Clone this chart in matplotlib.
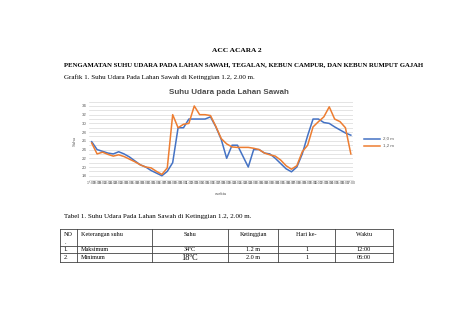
import numpy as np
import matplotlib.pyplot as plt

W, H = 474, 334

# --- data ---
waktu = ['%02d:00' % ((17 + i) % 24) for i in range(49)]
suhu_20 = [25.8, 24.0, 23.6, 23.2, 23.0, 23.5, 23.0, 22.3, 21.4, 20.5, 20.0, 19.2, 18.6,
           18.0, 19.0, 21.0, 29.0, 29.0, 31.0, 31.0, 31.0, 31.0, 31.5, 29.2, 26.3, 22.0,
           25.0, 25.0, 22.5, 20.0, 24.0, 24.0, 23.2, 23.0, 22.0, 20.8, 19.6, 18.9, 20.0,
           23.0, 27.2, 31.0, 31.0, 30.2, 30.0, 29.2, 28.5, 27.8, 27.3]
suhu_12 = [25.5, 23.0, 23.4, 22.9, 22.5, 22.8, 22.4, 21.8, 21.2, 20.5, 20.0, 19.8, 19.0,
           18.3, 19.8, 32.0, 29.0, 29.8, 30.0, 34.0, 32.0, 32.0, 31.8, 29.3, 26.5, 25.3,
           24.6, 24.5, 24.5, 24.5, 24.3, 24.0, 23.2, 22.8, 22.5, 21.6, 20.3, 19.5, 20.3,
           23.5, 25.0, 29.2, 30.4, 31.5, 33.8, 31.0, 30.4, 29.0, 23.0]
seri_label = ['2,0 m', '1,2 m']
y_ticks = [18, 20, 22, 24, 26, 28, 30, 32, 34]

tabel_header = ['NO', 'Keterangan suhu', 'Suhu', 'Ketinggian', 'Hari ke-', 'Waktu']
tabel_rows = [['1.', 'Maksimum', '34ºC', '1.2 m', '1', '12:00'],
              ['2.', 'Minimum', '18ºC', '2.0 m', '1', '06:00']]

judul1 = 'ACC ACARA 2'
judul2 = 'PENGAMATAN SUHU UDARA PADA LAHAN SAWAH, TEGALAN, KEBUN CAMPUR, DAN KEBUN RUMPUT GAJAH'
grafik_cap = 'Grafik 1. Suhu Udara Pada Lahan Sawah di Ketinggian 1.2, 2.00 m.'
tabel_cap = 'Tabel 1. Suhu Udara Pada Lahan Sawah di Ketinggian 1.2, 2.00 m.'

SERIF = 'Liberation Serif'
SANS = 'Liberation Sans'
GREY = '#595959'

fig = plt.figure(figsize=(W / 100, H / 100), dpi=100)
fig.patch.set_facecolor('white')

# page overlay in pixel coords
doc = fig.add_axes([0, 0, 1, 1])
doc.set_xlim(0, W)
doc.set_ylim(H, 0)
doc.axis('off')

doc.text(237, 51, judul1, ha='center', va='center', fontsize=5.3, fontweight='bold', family=SERIF)
doc.text(244, 65, judul2, ha='center', va='center', fontsize=4.9, fontweight='bold', family=SERIF)
doc.text(64, 77, grafik_cap, ha='left', va='center', fontsize=5.0, family=SERIF)

# chart
ax = fig.add_axes([89 / W, 1 - 180.1 / H, (353 - 89) / W, (180.1 - 101.6) / H])
x = np.arange(len(waktu))
ax.plot(x, suhu_20, color='#4472C4', lw=1.1, label=seri_label[0], zorder=3)
ax.plot(x, suhu_12, color='#ED7D31', lw=1.1, label=seri_label[1], zorder=3)
ax.set_xlim(-0.5, 48.4)
ax.set_ylim(17, 35)
ax.set_yticks(y_ticks)
ax.set_yticks(np.arange(17, 36, 1), minor=True)
ax.grid(axis='y', which='both', color='#d9d9d9', lw=0.5)
ax.set_axisbelow(True)
ax.set_xticks(x)
ax.set_xticklabels(waktu, fontsize=2.6, color=GREY, family=SANS)
ax.tick_params(axis='both', which='both', length=0, pad=1)
ax.tick_params(axis='y', labelsize=3.2, labelcolor=GREY, pad=2)
for lbl in ax.get_yticklabels():
    lbl.set_family(SANS)
for s in ['top', 'right', 'left']:
    ax.spines[s].set_visible(False)
ax.spines['bottom'].set_color('#d9d9d9')
ax.spines['bottom'].set_linewidth(0.5)
ax.set_facecolor('none')

doc.text(229, 92, 'Suhu Udara pada Lahan Sawah', ha='center', va='center', fontsize=5.8,
         fontweight='bold', color='#4d4d4d', family=SANS)
doc.text(75, 141, 'Suhu', ha='center', va='center', rotation=90, fontsize=3.2, color=GREY, family=SANS)
doc.text(221, 194, 'waktu', ha='center', va='center', fontsize=3.2, color=GREY, family=SANS)

# legend
for k, (c, lab) in enumerate(zip(['#4472C4', '#ED7D31'], seri_label)):
    yy = 139 + k * 6.5
    doc.plot([364, 380], [yy, yy], color=c, lw=1.1)
    doc.text(383, yy, lab, ha='left', va='center', fontsize=3.2, color=GREY, family=SANS)

# table
doc.text(64, 216.5, tabel_cap, ha='left', va='center', fontsize=5.0, family=SERIF)
col_x = [60, 77.3, 151.7, 228.3, 278.3, 335, 392.7]
row_y = [229.3, 245.7, 253.3, 261.7]
lc = '#444444'
for yy in row_y:
    doc.plot([col_x[0], col_x[-1]], [yy, yy], color=lc, lw=0.6)
for xx in col_x:
    doc.plot([xx, xx], [row_y[0], row_y[-1]], color=lc, lw=0.6)


def cell_text(j, yy, s, size=4.4):
    if j < 2:
        doc.text(col_x[j] + 3.5, yy, s, ha='left', va='center', fontsize=size, family=SERIF)
    else:
        doc.text((col_x[j] + col_x[j + 1]) / 2, yy, s, ha='center', va='center', fontsize=size,
                 family=SERIF)


for j, s in enumerate(tabel_header):
    cell_text(j, 234.3, s)
doc.text(65, 242.3, '.', ha='left', va='center', fontsize=4.4, family=SERIF)
for r, row in enumerate(tabel_rows):
    yy = [249.6, 257.6][r]
    for j, s in enumerate(row):
        size = 6 if (r == 1 and j == 2) else 4.4
        cell_text(j, yy, s, size)

fig.savefig('out.png', dpi=100)
